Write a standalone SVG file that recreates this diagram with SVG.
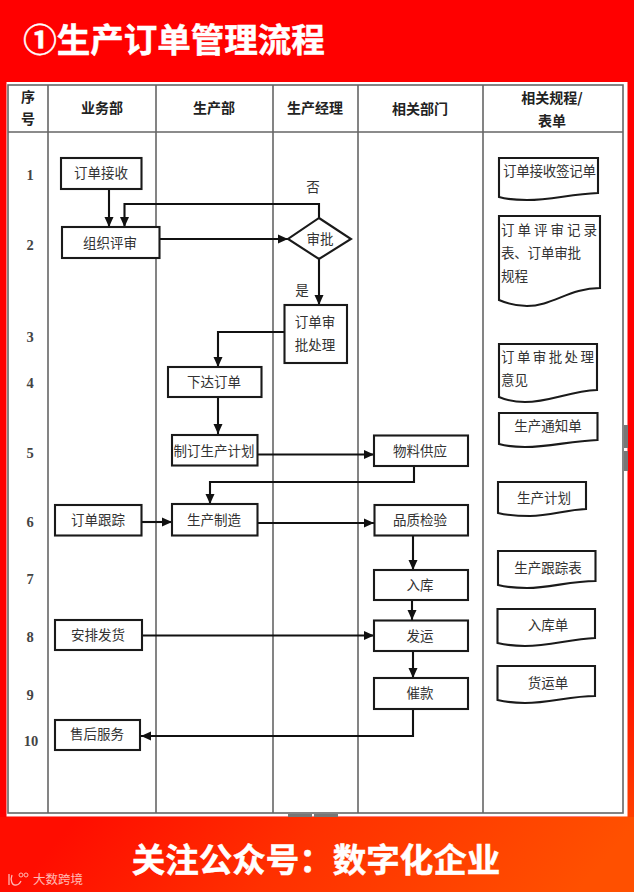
<svg xmlns="http://www.w3.org/2000/svg" width="634" height="892" viewBox="0 0 634 892">
<defs>
<linearGradient id="bgv" x1="0" y1="0" x2="0" y2="1"><stop offset="0.7" stop-color="#ff0000"/><stop offset="0.92" stop-color="#ff4000"/></linearGradient>
<linearGradient id="bgh" x1="0" y1="0" x2="1" y2="0.1"><stop offset="0.12" stop-color="#ff0d00"/><stop offset="0.5" stop-color="#ff3000"/><stop offset="1" stop-color="#ff5000"/></linearGradient>
<marker id="ah" markerUnits="userSpaceOnUse" markerWidth="11" markerHeight="11" refX="10" refY="5.5" orient="auto"><path d="M0,1 L10,5.5 L0,10 Z" fill="#111"/></marker>
</defs>
<style>
text{font-family:"Noto Sans CJK SC","Liberation Sans",sans-serif;text-anchor:middle}
.grid{stroke:#666;stroke-width:1.6;fill:none}
.box{fill:#fff;stroke:#1a1a1a;stroke-width:2.1}
.t{font-size:13.5px;fill:#333}
.ts{font-size:13.5px;fill:#333;text-anchor:start}
.h{font-size:14px;font-weight:700;fill:#222}
.n{font-family:"Liberation Serif",serif;font-size:14.5px;fill:#444;font-weight:700}
.ca{fill:none;stroke:#111;stroke-width:2.1;marker-end:url(#ah)}
.big{font-weight:700;fill:#fff;stroke:#fff;stroke-width:0.5}
</style>
<rect width="634" height="892" fill="#ff0000"/>
<rect x="600" y="0" width="34" height="892" fill="url(#bgv)"/>
<rect x="0" y="817" width="634" height="75" fill="url(#bgh)"/>
<text class="big" x="174" y="52" style="font-size:33.5px">①生产订单管理流程</text>
<rect x="6.5" y="82" width="621" height="734.5" fill="#fff"/>
<rect x="288" y="814" width="24" height="3" fill="#777"/>
<rect x="314" y="814" width="24" height="3" fill="#777"/>
<rect x="624" y="425" width="4" height="23" fill="#777"/>
<rect x="624" y="451" width="4" height="20" fill="#777"/>
<g id="grid">
<rect class="grid" x="8" y="85" width="615" height="728"/>
<path class="grid" d="M48,85V813M156,85V813M273,85V813M358,85V813M483,85V813M8,132H623"/>
</g>
<g id="headers">
<text class="h" x="28" y="102">序</text><text class="h" x="28" y="124">号</text>
<text class="h" x="102" y="113">业务部</text>
<text class="h" x="214" y="113">生产部</text>
<text class="h" x="315" y="113">生产经理</text>
<text class="h" x="420" y="114">相关部门</text>
<text class="h" x="552" y="103">相关规程/</text>
<text class="h" x="552" y="126">表单</text>
</g>
<g id="rows">
<text class="n" x="30" y="180">1</text><text class="n" x="30" y="250">2</text><text class="n" x="30" y="342">3</text><text class="n" x="30" y="388">4</text><text class="n" x="30" y="458">5</text><text class="n" x="30" y="527">6</text><text class="n" x="30" y="584">7</text><text class="n" x="30" y="642">8</text><text class="n" x="30" y="700">9</text><text class="n" x="31" y="746">10</text>
</g>
<g id="connectors">
<path class="ca" d="M109,189V227"/>
<path class="ca" d="M319,218V204H124.500V227"/>
<path class="ca" d="M157,239H288"/>
<path class="ca" d="M319,259V305"/>
<path class="ca" d="M284,332H218V367"/>
<path class="ca" d="M218,397V434"/>
<path class="ca" d="M258,454.500H374"/>
<path class="ca" d="M414,466V482H210V504"/>
<path class="ca" d="M142,522H172"/>
<path class="ca" d="M258,523H374"/>
<path class="ca" d="M413,535V570"/>
<path class="ca" d="M412,600V620"/>
<path class="ca" d="M142,635.500H374"/>
<path class="ca" d="M413,651V678"/>
<path class="ca" d="M413,709V736H141"/>
</g>
<g id="n1"><rect class="box" x="61" y="158" width="80.500" height="31"/><text class="t" x="101" y="178">订单接收</text></g>
<g id="n2"><rect class="box" x="62" y="227" width="97.500" height="31"/><text class="t" x="110" y="248">组织评审</text></g>
<g id="n3"><path class="box" d="M319,218L351,239L319,259L288,239Z"/><text class="t" x="320" y="244">审批</text></g>
<g id="n4"><rect class="box" x="284.500" y="305" width="62.500" height="58"/><text class="t" x="315" y="327">订单审</text><text class="t" x="315" y="350">批处理</text></g>
<g id="n5"><rect class="box" x="168" y="367" width="93.500" height="30"/><text class="t" x="214" y="387">下达订单</text></g>
<g id="n6"><rect class="box" x="172" y="435" width="85.500" height="30.500"/><text class="t" x="214" y="456">制订生产计划</text></g>
<g id="n7"><rect class="box" x="374" y="435.500" width="94" height="30.500"/><text class="t" x="420" y="456">物料供应</text></g>
<g id="n8"><rect class="box" x="55" y="505" width="86.500" height="30.500"/><text class="t" x="98" y="525">订单跟踪</text></g>
<g id="n9"><rect class="box" x="172" y="504" width="85.500" height="31.500"/><text class="t" x="214" y="525">生产制造</text></g>
<g id="n10"><rect class="box" x="374.500" y="505" width="93.500" height="30.500"/><text class="t" x="420" y="525">品质检验</text></g>
<g id="n11"><rect class="box" x="374" y="570" width="94" height="30"/><text class="t" x="420" y="590">入库</text></g>
<g id="n12"><rect class="box" x="55" y="620" width="87" height="30"/><text class="t" x="98" y="640">安排发货</text></g>
<g id="n13"><rect class="box" x="374" y="620.500" width="94" height="30.500"/><text class="t" x="420" y="641">发运</text></g>
<g id="n14"><rect class="box" x="374" y="678" width="94" height="31"/><text class="t" x="420" y="698">催款</text></g>
<g id="n15"><rect class="box" x="55" y="720" width="85" height="30"/><text class="t" x="97" y="739">售后服务</text></g>
<g id="labels"><text class="t" x="313" y="192">否</text><text class="t" x="302" y="295">是</text></g>
<g id="d1"><path class="box" d="M499,158H598V193C570,194 552,200 527,200C515,200 506,199 499,197Z"/><text class="ts" x="503" y="176" textLength="93">订单接收签记单</text></g>
<g id="d2"><path class="box" d="M499,216H600V288C570,288 552,306 527,306C515,306 506,303 499,300Z"/><text class="ts" x="501" y="235" textLength="96">订单评审记录</text><text class="ts" x="501" y="258" textLength="80">表、订单审批</text><text class="ts" x="501" y="281">规程</text></g>
<g id="d3"><path class="box" d="M499,344H597V390C570,391 550,402 525,402C515,402 506,400 499,397Z"/><text class="ts" x="501" y="362" textLength="93">订单审批处理</text><text class="ts" x="501" y="385">意见</text></g>
<g id="d4"><path class="box" d="M499,413H597.500V440C570,441 550,447 525,447C515,447 506,446 499,444Z"/><text class="t" x="548" y="431">生产通知单</text></g>
<g id="d5"><path class="box" d="M498,482H586V509C565,510 550,516 530,516C516,516 506,515 498,513Z"/><text class="t" x="544" y="503">生产计划</text></g>
<g id="d6"><path class="box" d="M498,551H595.500V581C570,581 550,588 527,588C515,588 506,587 498,585Z"/><text class="t" x="548" y="573">生产跟踪表</text></g>
<g id="d7"><path class="box" d="M497.500,609H595V638C570,639 550,646 525,646C515,646 506,645 497.500,643Z"/><text class="t" x="548" y="630">入库单</text></g>
<g id="d8"><path class="box" d="M497.500,666H595V696C570,696 550,703 525,703C515,703 506,702 497.500,700Z"/><text class="t" x="548" y="688">货运单</text></g>
<text class="big" x="316" y="872" style="font-size:33.5px">关注公众号：数字化企业</text>
<g id="watermark" opacity="0.7"><path d="M9,874V885M12,875C10,880 12,886 16,885C19,885 20,883 21,881" fill="none" stroke="#fff" stroke-width="1.300"/><circle cx="21" cy="875" r="2" fill="none" stroke="#fff"/><circle cx="26" cy="875" r="2" fill="none" stroke="#fff"/><text x="58" y="884" style="font-size:12.500px;fill:#fff">大数跨境</text></g>
</svg>
